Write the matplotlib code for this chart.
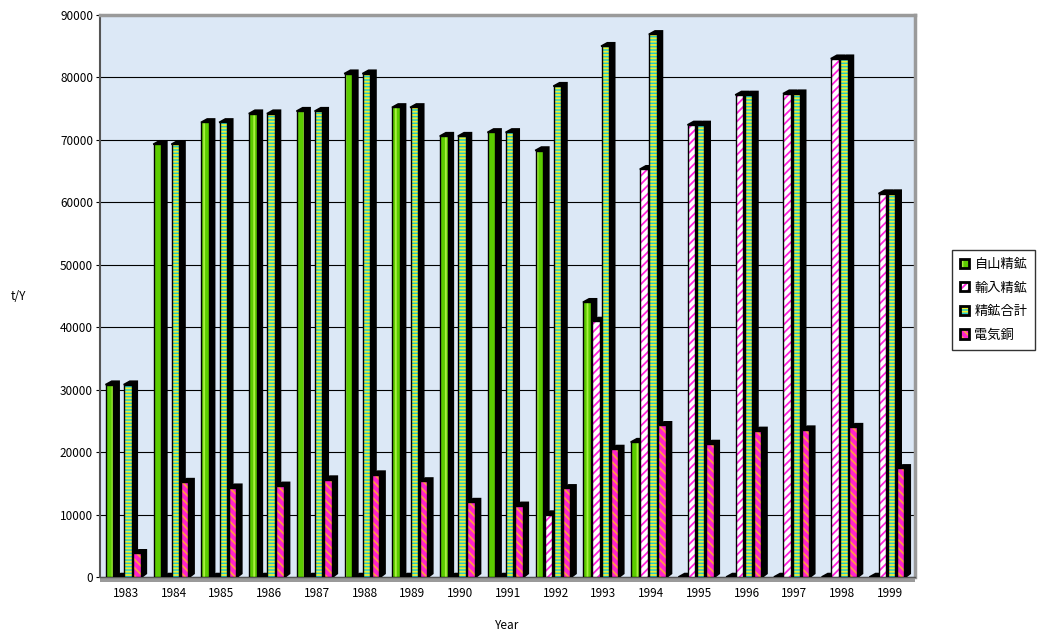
#!/usr/bin/env python3

import numpy as np
import matplotlib.pyplot as plt
from matplotlib.patches import Polygon, Rectangle

plt.rcParams['font.family'] = ['Noto Sans CJK JP', 'DejaVu Sans']
plt.rcParams['hatch.linewidth'] = 1.3

years = [1983, 1984, 1985, 1986, 1987, 1988, 1989, 1990, 1991,
         1992, 1993, 1994, 1995, 1996, 1997, 1998, 1999]

# t/Y
jisan = [30800, 69300, 72800, 74200, 74600, 80600, 75200, 70600, 71200,
         68300, 44000, 21600, 0, 0, 0, 0, 0]
yunyu = [0, 0, 0, 0, 0, 0, 0, 0, 0,
         10000, 41000, 65300, 72400, 77200, 77400, 83000, 61400]
goukei = [30800, 69300, 72800, 74200, 74600, 80600, 75200, 70600, 71200,
          78600, 85000, 86900, 72400, 77200, 77400, 83000, 61400]
denkidou = [3800, 15200, 14300, 14600, 15600, 16400, 15300, 12000, 11400,
            14200, 20500, 24300, 21300, 23400, 23600, 24000, 17400]

series_names = ['自山精鉱', '輸入精鉱', '精鉱合計', '電気銅']
series_vals = [jisan, yunyu, goukei, denkidou]
# face colour, hatch colour, hatch
styles = [
    ('#5ccc00', '#a8f040', '||'),
    ('#ffffff', '#ff22dd', '////'),
    ('#22cccc', '#f0f030', '-----'),
    ('#ff22cc', '#ff9944', '\\\\\\\\'),
]

fig = plt.figure(figsize=(10.46, 6.31), dpi=100)
ax = fig.add_axes([100 / 1046, 54 / 631, 815 / 1046, 562 / 631])
ax.set_facecolor('#dce8f6')

x = np.array(years, dtype=float)
start = -0.42
step = 0.19
width = 0.155
dx = 0.12
dy = 550

for i, vals in enumerate(series_vals):
    face, hcol, hatch = styles[i]
    for xi, v in zip(x, vals):
        x0 = xi + start + i * step
        # black depth: side + top
        depth = Polygon([(x0 - 0.01, v), (x0 + dx, v + dy), (x0 + width + dx, v + dy),
                         (x0 + width + dx, dy), (x0 + width, -150), (x0 + width, v)],
                        closed=True, facecolor='black', edgecolor='black',
                        linewidth=1.2, zorder=3 + 2 * i)
        ax.add_patch(depth)
        if v > 0:
            ax.add_patch(Rectangle((x0, 0), width, v, facecolor=face,
                                   edgecolor=hcol, hatch=hatch, linewidth=0,
                                   zorder=4 + 2 * i))
            ax.add_patch(Rectangle((x0, 0), width, v, facecolor='none',
                                   edgecolor='black', linewidth=1.0,
                                   zorder=4 + 2 * i))

# floor
ax.add_patch(Rectangle((x[0] - 0.545, -800), 17.07, 800, facecolor='#9a9a9a',
                       edgecolor='none', clip_on=False, zorder=2))

ax.set_xlim(x[0] - 0.545, x[-1] + 0.525)
ax.set_ylim(0, 90000)
ax.set_yticks(range(0, 90001, 10000))
ax.set_yticklabels([str(v) for v in range(0, 90001, 10000)], fontsize=8.5)
ax.set_xticks(x)
ax.set_xticklabels([str(y) for y in years], fontsize=8.5)
ax.tick_params(axis='x', length=0, pad=7)
ax.tick_params(axis='y', length=3, pad=2)
ax.yaxis.grid(True, color='black', linewidth=0.8, zorder=1)
ax.set_axisbelow(True)

for side in ['top', 'right']:
    ax.spines[side].set_color('#9a9a9a')
    ax.spines[side].set_linewidth(2.5)
ax.spines['left'].set_color('#555555')
ax.spines['left'].set_linewidth(1.5)
ax.spines['bottom'].set_color('#555555')
ax.spines['bottom'].set_linewidth(1.0)

ax.set_xlabel('Year', fontsize=8.5, labelpad=14)
fig.text(18 / 1046, 1 - 297 / 631, 't/Y', fontsize=8.5, ha='center', va='center')

# legend keys: hatched square with a black border on top
handles = []
for i, name in enumerate(series_names):
    face, hcol, hatch = styles[i]
    fill = Rectangle((0, 0), 1, 1, facecolor=face, edgecolor=hcol,
                     hatch=hatch, linewidth=0)
    border = Rectangle((0, 0), 1, 1, facecolor='none', edgecolor='black',
                       linewidth=2.0)
    handles.append((fill, border))
leg = fig.legend(handles, series_names, loc='upper left',
                 bbox_to_anchor=(952 / 1046, 1 - 250 / 631), fontsize=9.5,
                 frameon=True, fancybox=False, edgecolor='black',
                 handlelength=0.7, handleheight=0.7, handletextpad=0.4,
                 labelspacing=0.8, borderpad=0.6, borderaxespad=0)
leg.get_frame().set_linewidth(1.0)

plt.savefig('out.png', dpi=100)
